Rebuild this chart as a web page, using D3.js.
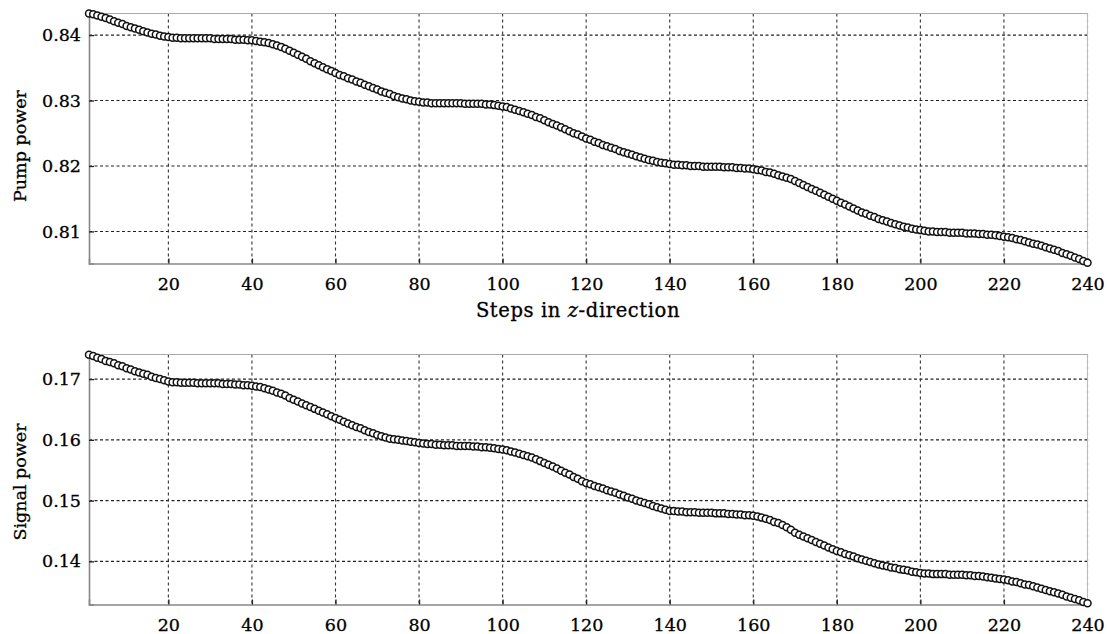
<!DOCTYPE html>
<html>
<head>
<meta charset="utf-8">
<script src="https://cdn.jsdelivr.net/npm/d3@7"></script>
<style>
  html, body { margin: 0; padding: 0; background: #fff; }
  svg { display: block; }
  text { font-family: "DejaVu Serif", "Liberation Serif", serif; fill: #000; }
</style>
</head>
<body>
<svg id="chart" width="1107" height="634"></svg>
<script>
// ---- data ----
const pumpPower = [
.8433,.8432,.8430,.8428,.8426,.8424,.8421,.8419,.8417,.8414,
.8412,.8410,.8408,.8406,.8404,.8402,.8401,.8399,.8398,.8397,
.8396,.8396,.8395,.8395,.8395,.8395,.8395,.8395,.8395,.8395,
.8394,.8394,.8394,.8394,.8394,.8393,.8393,.8393,.8392,.8392,
.8391,.8390,.8389,.8388,.8386,.8384,.8382,.8379,.8376,.8373,
.8370,.8367,.8364,.8360,.8357,.8354,.8351,.8348,.8345,.8342,
.8339,.8337,.8334,.8332,.8329,.8327,.8324,.8322,.8319,.8317,
.8314,.8312,.8310,.8307,.8305,.8303,.8302,.8300,.8299,.8298,
.8297,.8297,.8296,.8296,.8296,.8296,.8296,.8296,.8296,.8296,
.8295,.8295,.8295,.8295,.8295,.8294,.8294,.8293,.8292,.8291,
.8290,.8288,.8286,.8284,.8282,.8280,.8278,.8275,.8273,.8270,
.8267,.8264,.8262,.8259,.8256,.8253,.8250,.8248,.8245,.8242,
.8240,.8237,.8235,.8232,.8230,.8228,.8226,.8223,.8221,.8219,
.8217,.8215,.8213,.8211,.8209,.8208,.8206,.8205,.8204,.8203,
.8202,.8202,.8201,.8201,.8200,.8200,.8200,.8199,.8199,.8199,
.8199,.8199,.8198,.8198,.8198,.8197,.8197,.8196,.8196,.8195,
.8194,.8193,.8191,.8190,.8188,.8186,.8184,.8182,.8180,.8177,
.8174,.8171,.8168,.8165,.8162,.8159,.8156,.8153,.8150,.8147,
.8144,.8141,.8138,.8135,.8132,.8129,.8127,.8124,.8122,.8119,
.8117,.8115,.8113,.8111,.8109,.8107,.8106,.8104,.8103,.8102,
.8101,.8100,.8100,.8099,.8099,.8099,.8098,.8098,.8098,.8098,
.8097,.8097,.8097,.8096,.8096,.8095,.8095,.8094,.8093,.8092,
.8091,.8090,.8088,.8087,.8085,.8083,.8081,.8080,.8078,.8076,
.8074,.8072,.8070,.8067,.8065,.8063,.8060,.8058,.8055,.8052
];
const signalPower = [
.1740,.1738,.1735,.1733,.1730,.1728,.1726,.1723,.1721,.1718,
.1716,.1713,.1711,.1709,.1707,.1704,.1702,.1700,.1698,.1696,
.1695,.1695,.1694,.1694,.1694,.1694,.1693,.1693,.1693,.1693,
.1693,.1693,.1692,.1692,.1692,.1691,.1691,.1690,.1690,.1689,
.1688,.1687,.1685,.1683,.1681,.1678,.1676,.1673,.1669,.1666,
.1663,.1660,.1657,.1654,.1651,.1648,.1645,.1642,.1639,.1636,
.1633,.1630,.1627,.1624,.1621,.1619,.1616,.1613,.1611,.1608,
.1606,.1604,.1602,.1601,.1600,.1599,.1598,.1597,.1596,.1595,
.1594,.1593,.1593,.1592,.1592,.1591,.1591,.1591,.1590,.1590,
.1590,.1590,.1589,.1589,.1588,.1588,.1587,.1586,.1585,.1584,
.1583,.1581,.1579,.1577,.1575,.1573,.1571,.1568,.1565,.1562,
.1559,.1556,.1553,.1549,.1546,.1543,.1539,.1536,.1532,.1529,
.1527,.1524,.1522,.1520,.1517,.1515,.1513,.1510,.1508,.1505,
.1503,.1500,.1498,.1496,.1494,.1491,.1489,.1487,.1485,.1483,
.1483,.1482,.1482,.1481,.1481,.1481,.1480,.1480,.1480,.1480,
.1479,.1479,.1479,.1478,.1478,.1477,.1477,.1476,.1476,.1475,
.1474,.1472,.1470,.1468,.1465,.1463,.1460,.1456,.1452,.1447,
.1444,.1441,.1438,.1435,.1432,.1429,.1426,.1423,.1420,.1417,
.1415,.1412,.1410,.1408,.1405,.1403,.1401,.1399,.1397,.1395,
.1393,.1392,.1390,.1389,.1387,.1386,.1385,.1383,.1382,.1381,
.1380,.1380,.1379,.1379,.1379,.1379,.1378,.1378,.1378,.1378,
.1377,.1377,.1376,.1376,.1375,.1374,.1373,.1372,.1371,.1370,
.1369,.1367,.1366,.1364,.1362,.1361,.1359,.1357,.1355,.1353,
.1351,.1349,.1347,.1345,.1342,.1340,.1338,.1336,.1333,.1331
];
const steps = pumpPower.map((_, i) => i + 1);
const xTicks = [20, 40, 60, 80, 100, 120, 140, 160, 180, 200, 220, 240];
const pumpTicks = [0.81, 0.82, 0.83, 0.84];
const signalTicks = [0.14, 0.15, 0.16, 0.17];
const xDomain = [1, 240];
const pumpDomain = [0.8051, 0.8433];
const signalDomain = [0.1329, 0.17405];
const pumpLabel = "Pump power";
const signalLabel = "Signal power";

// ---- layout ----
const svg = d3.select("#chart");
const left = 89, right = 1087.5;
const x = d3.scaleLinear().domain(xDomain).range([left, right]);

function styleText(sel, size) {
  sel.attr("font-size", size).attr("font-family", "DejaVu Serif")
     .attr("fill", "#000").attr("stroke", "#000").attr("stroke-width", 0.3);
}

function panel(values, domain, ticks, top, bottom, yLabel, yLabelY, fmt) {
  const y = d3.scaleLinear().domain(domain).range([bottom, top]);
  const g = svg.append("g");

  // grid
  g.append("g").selectAll("line").data(ticks).join("line")
    .attr("x1", left).attr("x2", right)
    .attr("y1", d => y(d)).attr("y2", d => y(d))
    .attr("stroke", "#222").attr("stroke-width", 1.1)
    .attr("stroke-dasharray", "3,2.5");
  g.append("g").selectAll("line").data(xTicks).join("line")
    .attr("x1", d => x(d)).attr("x2", d => x(d))
    .attr("y1", top).attr("y2", bottom)
    .attr("stroke", "#333").attr("stroke-width", 1.1)
    .attr("stroke-dasharray", "3,3");

  // box
  g.append("line").attr("x1", left).attr("x2", right).attr("y1", top).attr("y2", top)
    .attr("stroke", "#aaa").attr("stroke-width", 1.2);
  g.append("line").attr("x1", right).attr("x2", right).attr("y1", top).attr("y2", bottom)
    .attr("stroke", "#bbb").attr("stroke-width", 1);

  // axes
  const xAxis = d3.axisBottom(x).tickValues(xTicks).tickSize(-5).tickPadding(14).tickFormat(d3.format("d"));
  const gx = g.append("g").attr("transform", `translate(0,${bottom})`).call(xAxis);
  gx.select(".domain").attr("stroke", "#888").attr("stroke-width", 1.6);
  gx.selectAll(".tick line").attr("stroke", "#222").attr("stroke-width", 1.3);
  styleText(gx.selectAll(".tick text"), 17.5);

  const yAxis = d3.axisLeft(y).tickValues(ticks).tickSize(-5).tickPadding(8).tickFormat(fmt);
  const gy = g.append("g").attr("transform", `translate(${left},0)`).call(yAxis);
  gy.select(".domain").attr("stroke", "#888").attr("stroke-width", 1.6);
  gy.selectAll(".tick line").attr("stroke", "#222").attr("stroke-width", 1.3);
  styleText(gy.selectAll(".tick text"), 17.5);

  // y label
  const yl = g.append("text")
    .attr("transform", `translate(21,${yLabelY}) rotate(-90)`)
    .attr("text-anchor", "middle").attr("dominant-baseline", "middle")
    .text(yLabel);
  styleText(yl, 17.5);

  // markers
  g.append("g").selectAll("circle").data(values).join("circle")
    .attr("cx", (d, i) => x(steps[i]))
    .attr("cy", d => y(d))
    .attr("r", 3.5)
    .attr("fill", "#fff")
    .attr("stroke", "#111")
    .attr("stroke-width", 1.5);
}

panel(pumpPower, pumpDomain, pumpTicks, 13.5, 263.5, pumpLabel, 146, d3.format(".2f"));
panel(signalPower, signalDomain, signalTicks, 354.5, 604.5, signalLabel, 482, d3.format(".2f"));

// x label for top panel
const xl = svg.append("text")
  .attr("x", 578).attr("y", 311)
  .attr("text-anchor", "middle").attr("dominant-baseline", "middle")
  .attr("letter-spacing", 0.6);
styleText(xl, 19.5);
xl.append("tspan").text("Steps in ");
xl.append("tspan").attr("font-style", "italic").text("z");
xl.append("tspan").text("-direction");
</script>
</body>
</html>
